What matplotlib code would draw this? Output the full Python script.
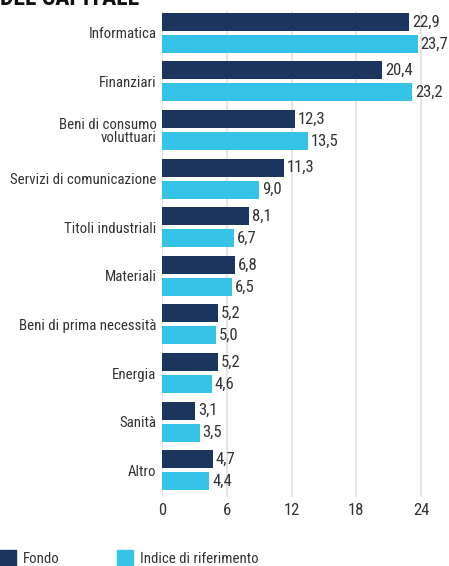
import matplotlib
matplotlib.use("Agg")
import matplotlib.pyplot as plt
from matplotlib import font_manager
from matplotlib.patches import Rectangle
import numpy as np

categories = ["Informatica", "Finanziari", "Beni di consumo\nvoluttuari",
              "Servizi di comunicazione", "Titoli industriali", "Materiali",
              "Beni di prima necessità", "Energia", "Sanità", "Altro"]
fondo = [22.9, 20.4, 12.3, 11.3, 8.1, 6.8, 5.2, 5.2, 3.1, 4.7]
indice = [23.7, 23.2, 13.5, 9.0, 6.7, 6.5, 5.0, 4.6, 3.5, 4.4]
xticks = [0, 6, 12, 18, 24]
series_names = ["Fondo", "Indice di riferimento"]

names = {f.name for f in font_manager.fontManager.ttflist}
fam = None
for cand in ["Liberation Sans Narrow", "DejaVu Sans Condensed", "Roboto Condensed", "Roboto"]:
    if cand in names:
        fam = cand
        break
plt.rcParams['font.family'] = [fam, 'DejaVu Sans']

dark = "#1b355f"
light = "#35c3e8"
txt = "#333333"

W, H = 449, 566
fig = plt.figure(figsize=(W/100, H/100), dpi=100)
ax = fig.add_axes([162/W, 1-497/H, 448/W-162/W, (497-11)/H])

y = np.arange(len(categories))
h = 0.37
off = 0.226
ax.barh(y - off, fondo, height=h, color=dark, zorder=3)
ax.barh(y + off, indice, height=h, color=light, zorder=3)

fs = 10.7
vfs = 12
for yi, v in zip(y, fondo):
    ax.text(v + 0.25, yi - off, f"{v:.1f}".replace('.', ','), va='center', ha='left', fontsize=vfs, color=txt)
for yi, v in zip(y, indice):
    ax.text(v + 0.25, yi + off, f"{v:.1f}".replace('.', ','), va='center', ha='left', fontsize=vfs, color=txt)

ax.set_xlim(0, 26.5)
ax.set_ylim(len(categories) - 0.45, -0.45)
ax.set_yticks(y)
ax.set_yticklabels(categories, fontsize=fs, color=txt, linespacing=0.95)
ax.set_xticks(xticks)
ax.set_xticklabels([str(t) for t in xticks], fontsize=vfs, color=txt)
ax.tick_params(axis='y', length=0, pad=4)
ax.tick_params(axis='x', length=0, pad=4)
for s in ax.spines.values():
    s.set_visible(False)
ax.grid(axis='x', color='#e6e6e6', linewidth=1.5, zorder=0)
ax.set_axisbelow(True)

fig.text(0.0, 1.0 + 13/H, "DEL CAPITALE", fontsize=17, fontweight='bold', color='#111111', va='top', ha='left')

# legend
def legend_item(x0, color, label):
    fig.add_artist(Rectangle((x0/W, 0), 16/W, 16/H, transform=fig.transFigure, color=color, clip_on=False))
    fig.text((x0 + 23)/W, 7/H, label, fontsize=fs, color=txt, va='center', ha='left')

legend_item(0, dark, series_names[0])
legend_item(117, light, series_names[1])

fig.savefig("out.png", dpi=100)
